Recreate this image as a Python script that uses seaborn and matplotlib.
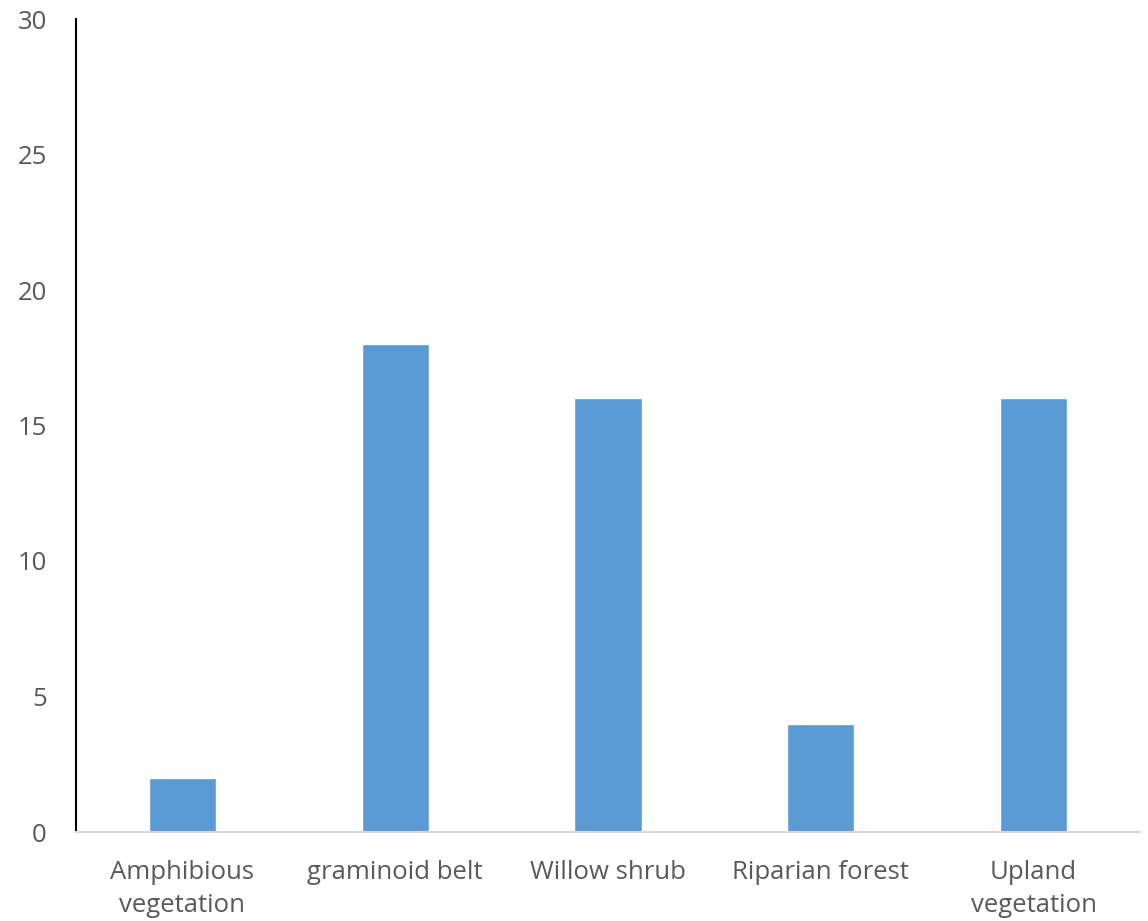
import matplotlib
matplotlib.use("Agg")
import matplotlib.pyplot as plt
import seaborn as sns
import pandas as pd

categories = ["Amphibious\nvegetation", "graminoid belt", "Willow shrub", "Riparian forest", "Upland\nvegetation"]
values = [2, 18, 16, 4, 16]
yticks = [0, 5, 10, 15, 20, 25, 30]

sns.set_theme(style="white")
plt.rcParams['font.family'] = ['Open Sans', 'DejaVu Sans']

df = pd.DataFrame({"category": categories, "value": values})

fig = plt.figure(figsize=(11.48, 9.21), dpi=100)
ax = fig.add_axes([76/1148, 1-832/921, (1140-76)/1148, (832-19)/921])
sns.barplot(data=df, x="category", y="value", color="#5B9BD5", width=0.315,
            saturation=1, ax=ax)
ax.set_ylim(0, 30)
ax.set_xlim(-0.5, 4.5)
ax.set_yticks(yticks)
ax.set_yticklabels([str(v) for v in yticks])
ax.set_xlabel("")
ax.set_ylabel("")
for s in ["top", "right"]:
    ax.spines[s].set_visible(False)
ax.spines["left"].set_color("black")
ax.spines["left"].set_linewidth(1.5)
ax.spines["bottom"].set_color("#d9d9d9")
ax.spines["bottom"].set_linewidth(1.5)
ax.tick_params(axis="both", length=0, labelsize=18.5, labelcolor="#595959")
ax.tick_params(axis="y", pad=21)
ax.tick_params(axis="x", pad=20)
for lab in ax.get_xticklabels():
    lab.set_linespacing(1.45)
fig.savefig("out.png", dpi=100)
